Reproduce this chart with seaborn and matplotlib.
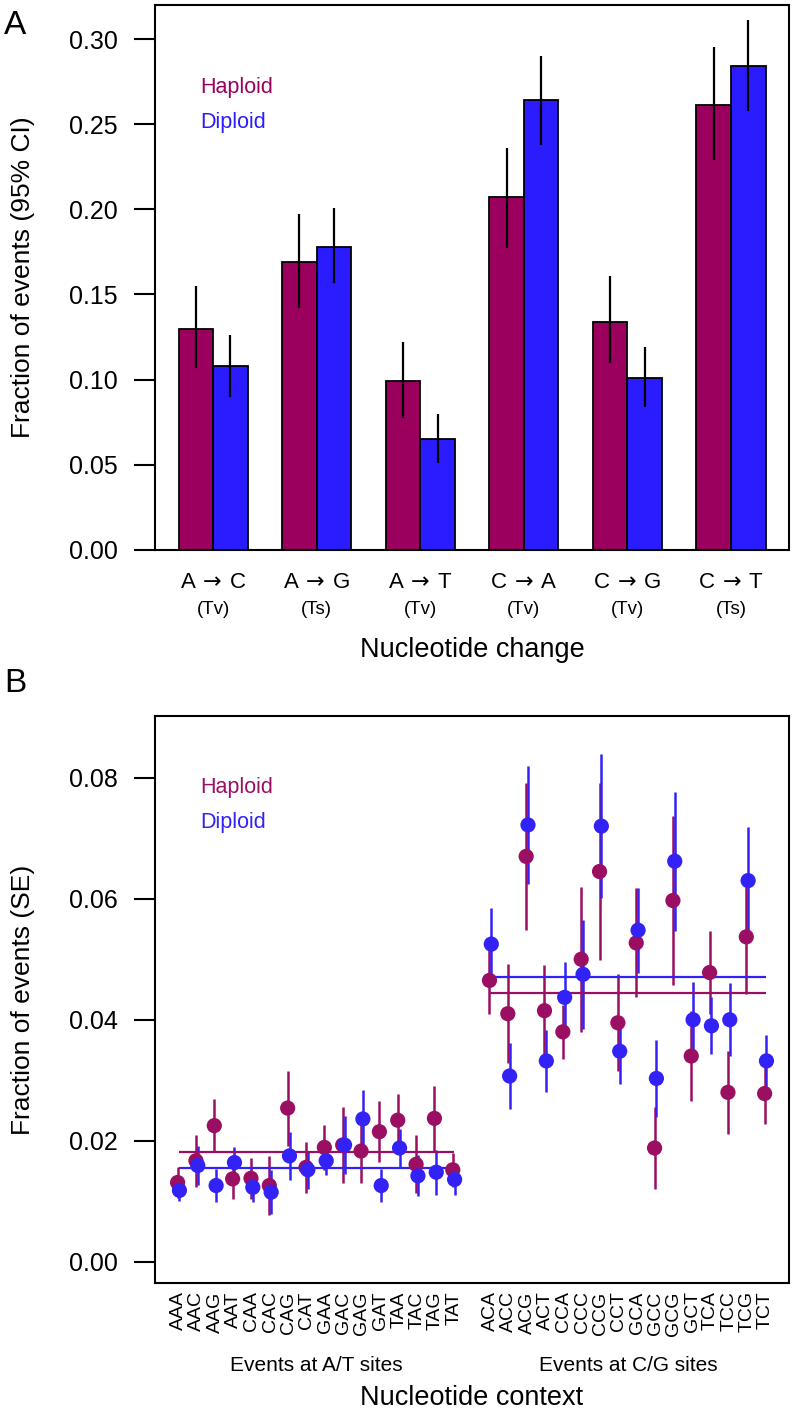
import numpy as np
import pandas as pd
import matplotlib
matplotlib.use("Agg")
import matplotlib.pyplot as plt
import seaborn as sns

sns.set_style("white")
plt.rcParams['font.family'] = ['Liberation Sans', 'DejaVu Sans']
plt.rcParams['text.color'] = 'black'
plt.rcParams['axes.labelcolor'] = 'black'
plt.rcParams['xtick.color'] = 'black'
plt.rcParams['ytick.color'] = 'black'
plt.rcParams['mathtext.fontset'] = 'dejavusans'

MAROON = "#9B005E"
BLUE = "#2B1BFF"
MAROON_B = "#9B0F63"
BLUE_B = "#3322F5"

# ---------------- Panel A data (fraction of events, 95% CI)
changes = [r"A$\,\rightarrow\,$C", r"A$\,\rightarrow\,$G", r"A$\,\rightarrow\,$T",
           r"C$\,\rightarrow\,$A", r"C$\,\rightarrow\,$G", r"C$\,\rightarrow\,$T"]
change_type = ["(Tv)", "(Ts)", "(Tv)", "(Tv)", "(Tv)", "(Ts)"]
hap_frac = [0.130, 0.169, 0.099, 0.207, 0.134, 0.261]
hap_lo = [0.107, 0.142, 0.0775, 0.177, 0.110, 0.229]
hap_hi = [0.155, 0.1975, 0.122, 0.236, 0.161, 0.2955]
dip_frac = [0.108, 0.178, 0.065, 0.264, 0.101, 0.284]
dip_lo = [0.090, 0.157, 0.051, 0.238, 0.084, 0.258]
dip_hi = [0.126, 0.201, 0.080, 0.290, 0.119, 0.311]

# ---------------- Panel B data (fraction of events, SE)
at_ctx = ["AAA", "AAC", "AAG", "AAT", "CAA", "CAC", "CAG", "CAT",
          "GAA", "GAC", "GAG", "GAT", "TAA", "TAC", "TAG", "TAT"]
cg_ctx = ["ACA", "ACC", "ACG", "ACT", "CCA", "CCC", "CCG", "CCT",
          "GCA", "GCC", "GCG", "GCT", "TCA", "TCC", "TCG", "TCT"]

at_hap = [0.0131, 0.0167, 0.0225, 0.0137, 0.0138, 0.0126, 0.0254, 0.0156,
          0.0189, 0.0193, 0.0183, 0.0215, 0.0234, 0.0161, 0.0237, 0.0152]
at_hap_se = [0.0025, 0.0043, 0.0044, 0.0033, 0.0034, 0.0048, 0.0062, 0.0042,
             0.0037, 0.0062, 0.0052, 0.0050, 0.0044, 0.0048, 0.0054, 0.0028]
at_dip = [0.0118, 0.0159, 0.0126, 0.0164, 0.0123, 0.0115, 0.0175, 0.0152,
          0.0167, 0.0193, 0.0236, 0.0126, 0.0188, 0.0142, 0.0148, 0.0136]
at_dip_se = [0.0018, 0.0032, 0.0027, 0.0026, 0.0025, 0.0036, 0.0040, 0.0031,
             0.0023, 0.0048, 0.0048, 0.0028, 0.0032, 0.0034, 0.0037, 0.0025]

cg_hap = [0.0465, 0.0410, 0.0670, 0.0415, 0.0380, 0.0500, 0.0645, 0.0395,
          0.0527, 0.0188, 0.0597, 0.0340, 0.0478, 0.0280, 0.0537, 0.0278]
cg_hap_se = [0.0056, 0.0082, 0.0121, 0.0075, 0.0045, 0.0120, 0.0146, 0.0080,
             0.0090, 0.0068, 0.0140, 0.0075, 0.0068, 0.0068, 0.0095, 0.0050]
cg_dip = [0.0525, 0.0307, 0.0722, 0.0332, 0.0437, 0.0475, 0.0720, 0.0348,
          0.0548, 0.0303, 0.0662, 0.0400, 0.0390, 0.0400, 0.0630, 0.0332]
cg_dip_se = [0.0060, 0.0055, 0.0097, 0.0051, 0.0058, 0.0090, 0.0119, 0.0055,
             0.0070, 0.0064, 0.0115, 0.0063, 0.0047, 0.0060, 0.0088, 0.0043]

fig = plt.figure(figsize=(7.93, 14.17), dpi=100)

# ================= Panel A
axA = fig.add_axes([0.1955, 0.6119, 0.7995, 0.3846])
dfA = pd.DataFrame({
    "change": changes * 2,
    "frac": hap_frac + dip_frac,
    "ploidy": ["Haploid"] * 6 + ["Diploid"] * 6,
})
sns.barplot(data=dfA, x="change", y="frac", hue="ploidy",
            hue_order=["Haploid", "Diploid"], palette=[MAROON, BLUE],
            width=2 / 3, saturation=1, edgecolor="black", linewidth=1.3,
            errorbar=None, legend=False, ax=axA)

for cont, lo, hi in zip(axA.containers, [hap_lo, dip_lo], [hap_hi, dip_hi]):
    cx = [b.get_x() + b.get_width() / 2 for b in cont]
    axA.vlines(cx, lo, hi, color="black", lw=1.6, zorder=4)

axA.set_xlim(-0.56, 5.56)
axA.set_ylim(0, 0.32)
axA.set_yticks([0, 0.05, 0.10, 0.15, 0.20, 0.25, 0.30])
axA.set_yticklabels(["0.00", "0.05", "0.10", "0.15", "0.20", "0.25", "0.30"])
axA.set_xticks(range(6))
axA.set_xticklabels([])
axA.tick_params(axis="x", length=0)
axA.set_xlabel("")
axA.set_ylabel("Fraction of events (95% CI)", fontsize=19)
axA.yaxis.set_label_coords(-0.19, 0.5)

trA = axA.get_xaxis_transform()
for i, (lab, typ) in enumerate(zip(changes, change_type)):
    axA.text(i, -0.059, lab, transform=trA, ha="center", va="center", fontsize=16)
    axA.text(i, -0.110, typ, transform=trA, ha="center", va="center", fontsize=13.5)
axA.text(0.5, -0.183, "Nucleotide change", transform=axA.transAxes,
         ha="center", va="center", fontsize=19.5)

axA.text(0.071, 0.848, "Haploid", transform=axA.transAxes, color=MAROON,
         ha="left", va="center", fontsize=15.5)
axA.text(0.071, 0.785, "Diploid", transform=axA.transAxes, color=BLUE,
         ha="left", va="center", fontsize=15.5)

fig.text(15 / 793, 1 - 25 / 1417, "A", fontsize=24, ha="center", va="center")

# ================= Panel B
axB = fig.add_axes([0.1955, 0.0946, 0.7995, 0.4001])

at_pos = np.arange(1, 17)
cg_pos = np.arange(18, 34)
dodge = 0.05
dfB = pd.DataFrame({
    "x": np.concatenate([at_pos - dodge, cg_pos - dodge, at_pos + dodge, cg_pos + dodge]),
    "frac": at_hap + cg_hap + at_dip + cg_dip,
    "se": at_hap_se + cg_hap_se + at_dip_se + cg_dip_se,
    "ploidy": ["Haploid"] * 32 + ["Diploid"] * 32,
})

for pl, col in [("Haploid", MAROON_B), ("Diploid", BLUE_B)]:
    sub = dfB[dfB["ploidy"] == pl]
    axB.vlines(sub["x"], sub["frac"] - sub["se"], sub["frac"] + sub["se"],
               color=col, lw=1.8, zorder=2)

# group means
for pos, vals, col in [(at_pos, at_hap, MAROON_B), (at_pos, at_dip, BLUE_B),
                       (cg_pos, cg_hap, MAROON_B), (cg_pos, cg_dip, BLUE_B)]:
    axB.hlines(np.mean(vals), pos[0], pos[-1], color=col, lw=1.6, zorder=2)

sns.scatterplot(data=dfB, x="x", y="frac", hue="ploidy",
                palette={"Haploid": MAROON_B, "Diploid": BLUE_B},
                s=120, edgecolor="none", legend=False, zorder=3, ax=axB)

axB.set_xlim(-0.28, 34.28)
axB.set_ylim(-0.0035, 0.0902)
axB.set_yticks([0, 0.02, 0.04, 0.06, 0.08])
axB.set_yticklabels(["0.00", "0.02", "0.04", "0.06", "0.08"])
axB.set_xticks(np.concatenate([at_pos, cg_pos]))
axB.set_xticklabels(at_ctx + cg_ctx, rotation=90, fontsize=14)
axB.tick_params(axis="x", length=0, pad=6)
axB.set_xlabel("")
axB.set_ylabel("Fraction of events (SE)", fontsize=19)
axB.yaxis.set_label_coords(-0.19, 0.5)

trB = axB.get_xaxis_transform()
axB.text(np.mean(at_pos), -0.145, "Events at A/T sites", transform=trB,
         ha="center", va="center", fontsize=15)
axB.text(np.mean(cg_pos), -0.145, "Events at C/G sites", transform=trB,
         ha="center", va="center", fontsize=15)
axB.text(0.5, -0.203, "Nucleotide context", transform=axB.transAxes,
         ha="center", va="center", fontsize=19.5)

axB.text(0.071, 0.874, "Haploid", transform=axB.transAxes, color=MAROON_B,
         ha="left", va="center", fontsize=15.5)
axB.text(0.071, 0.812, "Diploid", transform=axB.transAxes, color=BLUE_B,
         ha="left", va="center", fontsize=15.5)

fig.text(15 / 793, 1 - 683 / 1417, "B", fontsize=24, ha="center", va="center")

for ax in (axA, axB):
    for sp in ax.spines.values():
        sp.set_visible(True)
        sp.set_color("black")
        sp.set_linewidth(1.5)
    ax.tick_params(axis="y", direction="out", length=15, width=1.5, pad=12,
                   labelsize=18, left=True)

fig.savefig("out.png", dpi=100)
